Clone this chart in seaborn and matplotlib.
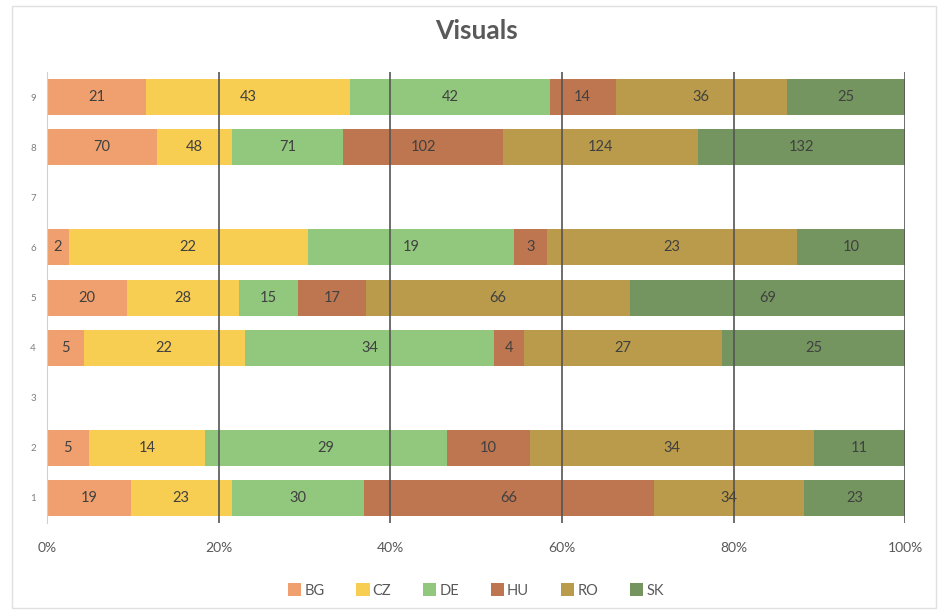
import numpy as np
import pandas as pd
import matplotlib.pyplot as plt
import seaborn as sns
from matplotlib.patches import Rectangle

rows = ["9", "8", "7", "6", "5", "4", "3", "2", "1"]
countries = ["BG", "CZ", "DE", "HU", "RO", "SK"]
colors = ["#EFA06E", "#F8CE52", "#92C87D", "#BE7650", "#B99B4B", "#74955F"]

# values per row, in country order; rows 3 and 7 have no data
bg = {"9": 21, "8": 70, "6": 2, "5": 20, "4": 5, "2": 5, "1": 19}
cz = {"9": 43, "8": 48, "6": 22, "5": 28, "4": 22, "2": 14, "1": 23}
de = {"9": 42, "8": 71, "6": 19, "5": 15, "4": 34, "2": 29, "1": 30}
hu = {"9": 14, "8": 102, "6": 3, "5": 17, "4": 4, "2": 10, "1": 66}
ro = {"9": 36, "8": 124, "6": 23, "5": 66, "4": 27, "2": 34, "1": 34}
sk = {"9": 25, "8": 132, "6": 10, "5": 69, "4": 25, "2": 11, "1": 23}

df = pd.DataFrame({"BG": bg, "CZ": cz, "DE": de, "HU": hu, "RO": ro, "SK": sk})
share = df.div(df.sum(axis=1), axis=0)
cum = share.cumsum(axis=1)
start = cum - share

sns.set_style("white")
plt.rcParams["font.family"] = ["Lato", "DejaVu Sans"]

fig = plt.figure(figsize=(9.38, 6.11), dpi=100)
ax = fig.add_axes([0.050, 0.144, 0.915, 0.738])

# draw widest cumulative first so each narrower one covers it
for c, col in reversed(list(zip(countries, colors))):
    d = cum[c].reset_index()
    d.columns = ["row", "cum"]
    sns.barplot(data=d, x="cum", y="row", order=rows, color=col, width=0.72,
                orient="h", errorbar=None, label=c, ax=ax, saturation=1,
                linewidth=0)

pos = {r: i for i, r in enumerate(rows)}
for r in df.index:
    for c in countries:
        ax.text(start.loc[r, c] + share.loc[r, c] / 2, pos[r], str(df.loc[r, c]),
                ha="center", va="center", fontsize=10.5, color="#404040", zorder=5)

for x in [0.2, 0.4, 0.6, 0.8, 1.0]:
    ax.axvline(x, color="#555555", lw=1.2, zorder=4)

ax.set_xlim(0, 1)
ax.set_ylim(8.5, -0.5)
ax.set_xticks([0, 0.2, 0.4, 0.6, 0.8, 1.0])
ax.set_xticklabels(["0%", "20%", "40%", "60%", "80%", "100%"], color="#595959", fontsize=10)
ax.tick_params(axis="x", length=0, pad=14)
ax.tick_params(axis="y", length=0, pad=8, labelsize=7, labelcolor="#7f7f7f")
ax.set_xlabel("")
ax.set_ylabel("")
for s in ["top", "right", "bottom"]:
    ax.spines[s].set_visible(False)
ax.spines["left"].set_color("#d0d0d0")

ax.set_title("Visuals", fontsize=19, fontweight="bold", color="#595959", pad=24)

handles, labels = ax.get_legend_handles_labels()
order_idx = [labels.index(c) for c in countries]
ax.legend([handles[i] for i in order_idx], countries, loc="upper center",
          bbox_to_anchor=(0.5, -0.105), ncol=6, frameon=False, fontsize=10.5,
          handlelength=0.9, handleheight=0.9, handletextpad=0.2, columnspacing=2.2,
          labelcolor="#595959")

fig.patches.append(Rectangle((0.013, 0.005), 0.985, 0.985, transform=fig.transFigure,
                             fill=False, edgecolor="#e0e0e0", lw=1))

fig.savefig("out.png", dpi=100)
